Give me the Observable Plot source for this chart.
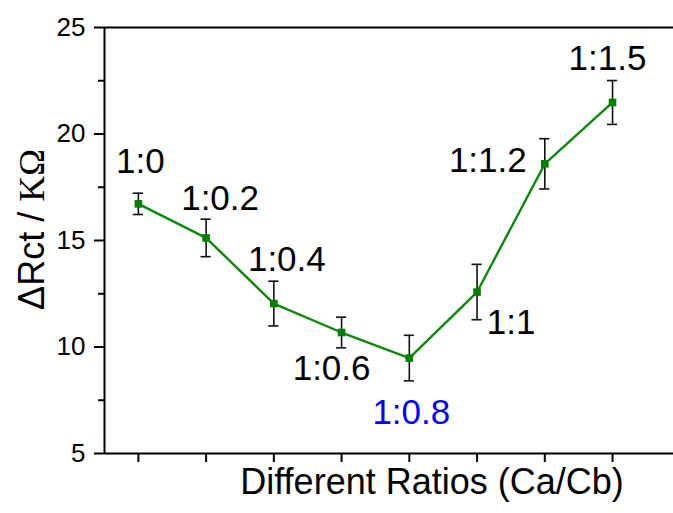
<!DOCTYPE html>
<html>
<head>
<meta charset="utf-8">
<script src="https://cdn.jsdelivr.net/npm/d3@7"></script>
<script src="https://cdn.jsdelivr.net/npm/@observablehq/plot@0.6"></script>
<style>
  html, body { margin: 0; padding: 0; background: #fff; }
  #chart svg { display: block; font-family: "Liberation Sans", Arial, sans-serif; }
</style>
</head>
<body>
<div id="chart"></div>
<script>
// Data
const ratios = ["1:0", "1:0.2", "1:0.4", "1:0.6", "1:0.8", "1:1", "1:1.2", "1:1.5"];
const values = [16.72, 15.12, 12.04, 10.68, 9.48, 12.58, 18.6, 21.48];
const errors = [0.5, 0.88, 1.05, 0.72, 1.07, 1.3, 1.18, 1.03];
const yTicks = [5, 10, 15, 20, 25];
const yMinorTicks = [7.5, 12.5, 17.5, 22.5];

// Label placement (pixel offsets from each point) and colours
const labelDx = [2, 14, 13, -10, 2, 34, -57, -5];
const labelDy = [-42, -39, -44, 36, 55, 31, -3, -44];
const labelColors = ["#000", "#000", "#000", "#000", "#0000ff", "#000", "#000", "#000"];

const data = ratios.map((r, i) => ({i, ratio: r, v: values[i], e: errors[i]}));
const capHalf = 0.075;
const green = "#0c880c";

const labelMarks = data.map((d, k) => Plot.text([d], {
  x: "i", y: "v", text: "ratio",
  dx: labelDx[k], dy: labelDy[k],
  fill: labelColors[k], fontSize: 35
}));

const chart = Plot.plot({
  width: 673,
  height: 513,
  marginLeft: 104,
  marginRight: 0,
  marginTop: 27,
  marginBottom: 60,
  style: {fontFamily: "'Liberation Sans', Arial, sans-serif", background: "#fff"},
  x: {domain: [-0.5, 7.9], axis: null},
  y: {domain: [5, 25], axis: null},
  marks: [
    Plot.axisY({ticks: yTicks, tickSize: 10, tickPadding: 9, fontSize: 26, strokeWidth: 2, label: null, color: "#000"}),
    Plot.axisY({ticks: yMinorTicks, tickSize: 6, strokeWidth: 2, text: null, label: null}),
    Plot.axisX({ticks: data.map(d => d.i), tickSize: 9, strokeWidth: 2, text: null, label: null}),
    Plot.ruleY([5, 25], {strokeWidth: 2}),
    Plot.ruleX([-0.5], {strokeWidth: 2}),
    Plot.line(data, {x: "i", y: "v", stroke: green, strokeWidth: 2.4}),
    Plot.ruleX(data, {x: "i", y1: d => d.v - d.e, y2: d => d.v + d.e, stroke: "#111", strokeWidth: 1.6}),
    Plot.ruleY(data, {y: d => d.v + d.e, x1: d => d.i - capHalf, x2: d => d.i + capHalf, stroke: "#111", strokeWidth: 1.6}),
    Plot.ruleY(data, {y: d => d.v - d.e, x1: d => d.i - capHalf, x2: d => d.i + capHalf, stroke: "#111", strokeWidth: 1.6}),
    Plot.dot(data, {x: "i", y: "v", symbol: "square", r: 4.3, fill: "#008000", stroke: "none"}),
    ...labelMarks,
    Plot.text(["Different Ratios (Ca/Cb)"], {frameAnchor: "bottom", textAnchor: "middle", dx: 43, dy: 40, fontSize: 36, fill: "#000"}),
    Plot.text(["ΔRct / KΩ"], {frameAnchor: "left", textAnchor: "middle", dx: -72, dy: -11, rotate: -90, fontSize: 36, fill: "#000"})
  ]
});

document.getElementById("chart").appendChild(chart);

// Set "KΩ" in a serif face like the reference
d3.select(chart).selectAll("text").filter(function () { return this.textContent === "ΔRct / KΩ"; })
  .each(function () {
    const t = d3.select(this);
    t.text(null);
    t.append("tspan").text("ΔRct / ");
    t.append("tspan").style("font-family", "'Liberation Serif', 'Times New Roman', serif").text("KΩ");
  });
</script>
</body>
</html>
